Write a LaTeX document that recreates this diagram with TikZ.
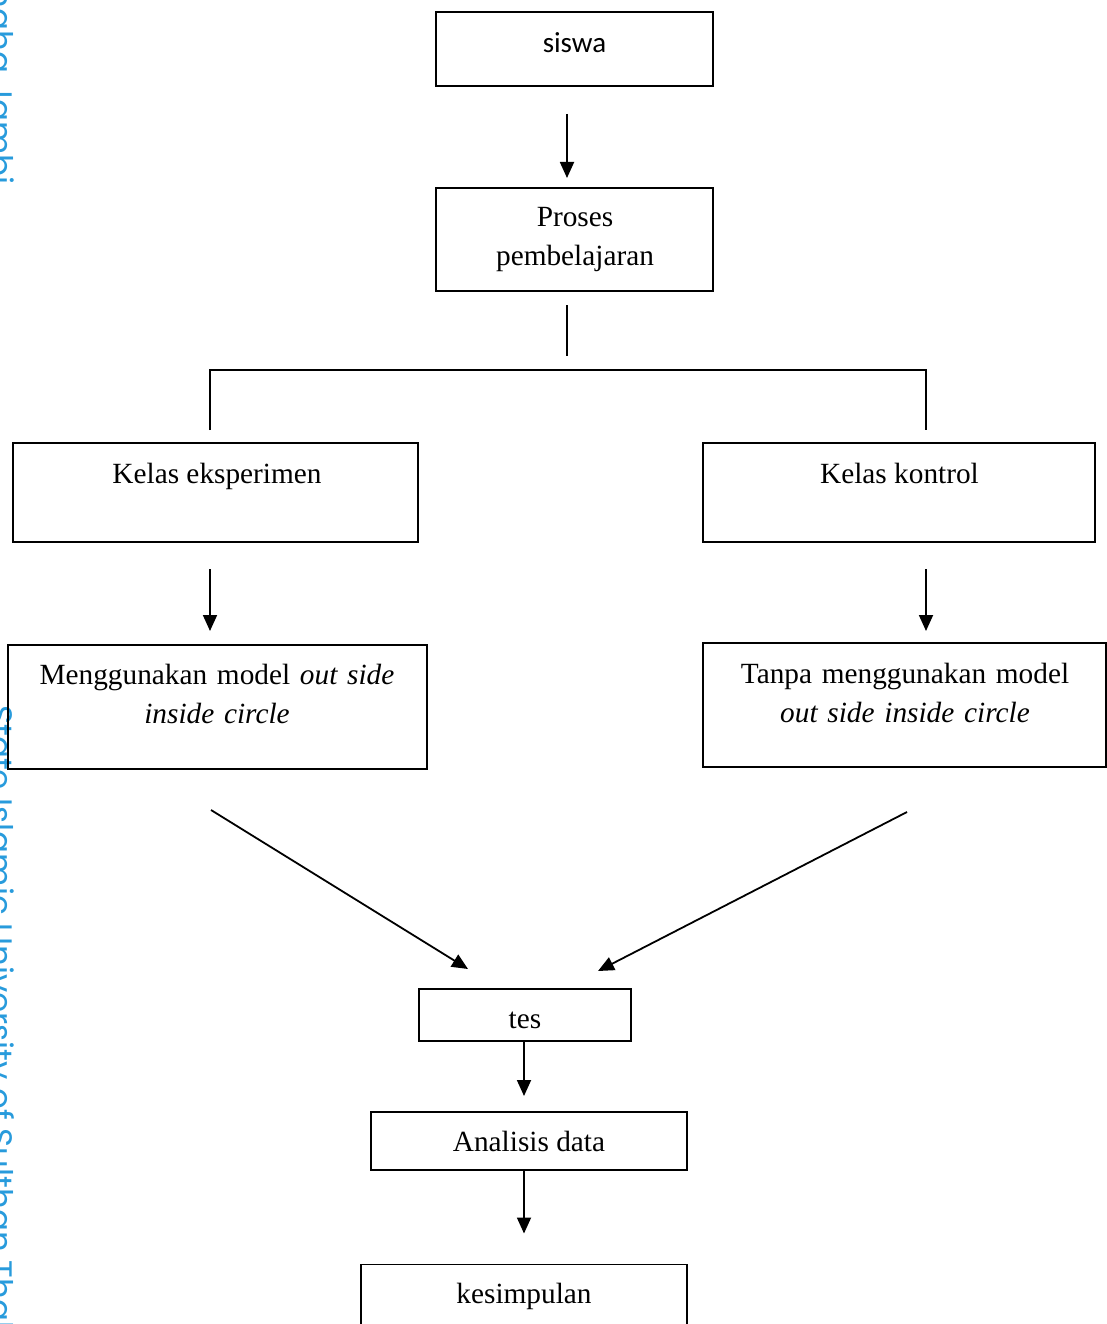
\documentclass[tikz,border=0pt]{standalone}
\usepackage{fontspec}
\setmainfont{Liberation Serif}
\newfontfamily\calibrifont{Carlito}
\newfontfamily\wmfont{Poppins}
\usetikzlibrary{arrows.meta}
\definecolor{wmblue}{RGB}{40,155,220}
\begin{document}
\begin{tikzpicture}[x=1pt,y=-1pt,
  box/.style={draw, line width=1.8pt, inner sep=0pt, outer sep=0pt},
  txt/.style={inner sep=0pt, anchor=base, align=center, font=\fontsize{29.3}{39}\selectfont},
  conn/.style={line width=1.8pt},
  arr/.style={line width=1.8pt, -{Triangle[length=16pt,width=14pt]}},
  wm/.style={rotate=-90, inner sep=0pt, text=wmblue, font=\wmfont\fontsize{32.5}{34}\selectfont}
]
\useasboundingbox (0,0) rectangle (1107,1324);
\fill[white] (0,0) rectangle (1107,1324);

% watermark
\node[wm, anchor=base east] (wmtop) at (-10,185) {State Islamic University of Sulthan Thaha Jambi};
\node[wm, anchor=base west] (wmbot) at (-10,705) {State Islamic University of Sulthan Thaha Jambi};

% boxes
\node[box, minimum width=277pt, minimum height=74pt]  (siswa)  at (574.5,49) {};
\node[box, minimum width=277pt, minimum height=103pt] (proses) at (574.5,239.5) {};
\node[box, minimum width=405pt, minimum height=99pt]  (ke)     at (215.5,492.5) {};
\node[box, minimum width=392pt, minimum height=99pt]  (kk)     at (899,492.5) {};
\node[box, minimum width=419pt, minimum height=124pt] (mg)     at (217.5,707) {};
\node[box, minimum width=403pt, minimum height=124pt] (tp)     at (904.5,705) {};
\node[box, minimum width=212pt, minimum height=52pt]  (tes)    at (525,1015) {};
\node[box, minimum width=316pt, minimum height=58pt]  (ad)     at (529,1141) {};
\node[box, minimum width=326pt, minimum height=75pt]  (ks)     at (524,1302) {};

% texts
\node[txt, font=\calibrifont\fontsize{29}{35}\selectfont] (tsiswa) at (574.5,53) {siswa};
\node[txt, text width=270pt] (tproses) at (575,227) {Proses\\pembelajaran};
\node[txt] (tke) at (217,483) {Kelas eksperimen};
\node[txt] (tkk) at (899.5,483) {Kelas kontrol};
\node[txt, text width=410pt] (tmg) at (217,684) {Menggunakan model \textit{out side}\\\textit{inside circle}};
\node[txt, text width=400pt] (ttp) at (905,683) {Tanpa menggunakan model\\\textit{out side inside circle}};
\node[txt] (ttes) at (525,1028) {tes};
\node[txt] (tad) at (529,1151) {Analisis data};
\node[txt] (tks) at (524,1303) {kesimpulan};

% connectors
\draw[arr] ([xshift=-7.5pt,yshift=-28pt]siswa.south) -- ([xshift=-7.5pt,yshift=10pt]proses.north);
\draw[conn] ([xshift=-7.5pt,yshift=-14pt]proses.south) -- ([xshift=-7.5pt,yshift=-65pt]proses.south);
\draw[conn] ([xshift=-5.5pt,yshift=13pt]ke.north) |- ([xshift=27pt,yshift=73pt]kk.north) -- ([xshift=27pt,yshift=13pt]kk.north);
\draw[arr] ([xshift=-5.5pt,yshift=-27pt]ke.south) -- ([xshift=-7.5pt,yshift=14pt]mg.north);
\draw[arr] ([xshift=27pt,yshift=-27pt]kk.south) -- ([xshift=21.5pt,yshift=12pt]tp.north);
\draw[arr] ([xshift=-6.5pt,yshift=-41pt]mg.south) -- ([xshift=-57pt,yshift=20pt]tes.north);
\draw[arr] ([xshift=2.5pt,yshift=-45pt]tp.south) -- ([xshift=73pt,yshift=18pt]tes.north);
\draw[arr] ([xshift=-1pt]tes.south) -- ([xshift=-5pt,yshift=16pt]ad.north);
\draw[arr] ([xshift=-5pt]ad.south) -- ([yshift=31pt]ks.north);
\end{tikzpicture}
\end{document}
